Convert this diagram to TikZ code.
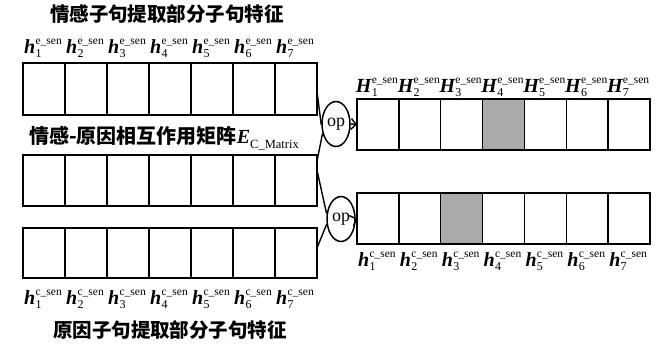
\documentclass[tikz,border=0pt]{standalone}
\usepackage{fontspec}
\setmainfont{Liberation Serif}
\newfontfamily\cjk{Noto Sans CJK SC}
\usetikzlibrary{shapes.geometric,arrows.meta,calc}
\definecolor{cellgray}{RGB}{170,170,170}
\newcommand\lbl[3]{{\fontsize{20}{20}\selectfont\bfseries\itshape #1}\kern0.3pt\rlap{\raisebox{-4pt}{\fontsize{12}{12}\selectfont #2}}\raisebox{8.5pt}{\fontsize{11.5}{11.5}\selectfont #3\_sen}}
\begin{document}
\begin{tikzpicture}[x=1pt,y=-1pt,
  cell/.style={minimum width=42pt,minimum height=52pt,inner sep=0pt,outer sep=0pt},
  rcell/.style={cell,minimum width=41.86pt,minimum height=51pt},
  edge/.style={line width=1.5pt},
  lab/.style={inner sep=0pt,anchor=base},
  cjkt/.style={inner sep=0pt,font={\cjk\bfseries\fontsize{19.5}{19.5}\selectfont}},
  opn/.style={ellipse,draw,line width=1.5pt,minimum width=28pt,minimum height=45pt,inner sep=0pt,font={\fontsize{18}{18}\selectfont}},
  conn/.style={line width=1.4pt},
  arr/.style={line width=1.4pt,-{Straight Barb[length=5pt,width=11pt]}}]
\useasboundingbox (0,0) rectangle (662,346);
% left arrays
\foreach \i in {1,...,7}{
  \node[cell] (e\i) at ({23+42*(\i-0.5)},89) {};
  \node[cell,minimum height=51pt] (m\i) at ({23+42*(\i-0.5)},180.5) {};
  \node[cell,minimum height=50pt] (c\i) at ({23+42*(\i-0.5)},253) {};
  \node[lab] (le\i) at ({23+42*(\i-0.5)-1},53) {\lbl{h}{\i}{e}};
  \node[lab] (lc\i) at ({23+42*(\i-0.5)-1},304) {\lbl{h}{\i}{c}};
}
% right arrays
\foreach \i in {1,...,7}{
  \node[rcell] (R\i) at ({357+41.86*(\i-0.5)},124.5) {};
  \node[rcell] (S\i) at ({357+41.86*(\i-0.5)},218.5) {};
  \node[lab] (lR\i) at ({357+41.86*(\i-0.5)-1},92) {\lbl{H}{\i}{e}};
  \node[lab] (lS\i) at ({357+41.86*(\i-0.5)-1},266) {\lbl{h}{\i}{c}};
}
\fill[cellgray] (R4.north west) rectangle (R4.south east);
\fill[cellgray] (S3.north west) rectangle (S3.south east);
\foreach \n in {e,m,c,R,S}{
  \foreach \i in {1,...,7}{
    \draw[edge] (\n\i.north west) rectangle (\n\i.south east);
  }
}
% texts
\node[cjkt] (t1) at (167,14) {情感子句提取部分子句特征};
\node[inner sep=0pt,anchor=west] (mt) at (29,138) {{\cjk\bfseries\fontsize{20}{20}\selectfont 情感-原因相互作用矩阵}{\fontsize{20}{20}\selectfont\bfseries\itshape E}\raisebox{-4.5pt}{\fontsize{12.5}{12.5}\selectfont C\_Matrix}};
\node[cjkt] (t2) at (170,330) {原因子句提取部分子句特征};
% op nodes
\node[opn] (op1) at (336,124) {op};
\node[opn] (op2) at (341,219) {op};
% connectors
\draw[conn] ($(e7.north east)!0.55!(e7.south east)$) -- (op1.183);
\draw[conn] ($(m7.north east)!0.12!(m7.south east)$) -- (op1.215);
\draw[conn] ($(m7.north east)!0.3!(m7.south east)$) -- (op2.160);
\draw[conn] ($(c7.north east)!0.4!(c7.south east)$) -- (op2.200);
\draw[arr] (op1.east) -- (R1.west);
\draw[arr] (op2.east) -- (S1.west);
\end{tikzpicture}
\end{document}
